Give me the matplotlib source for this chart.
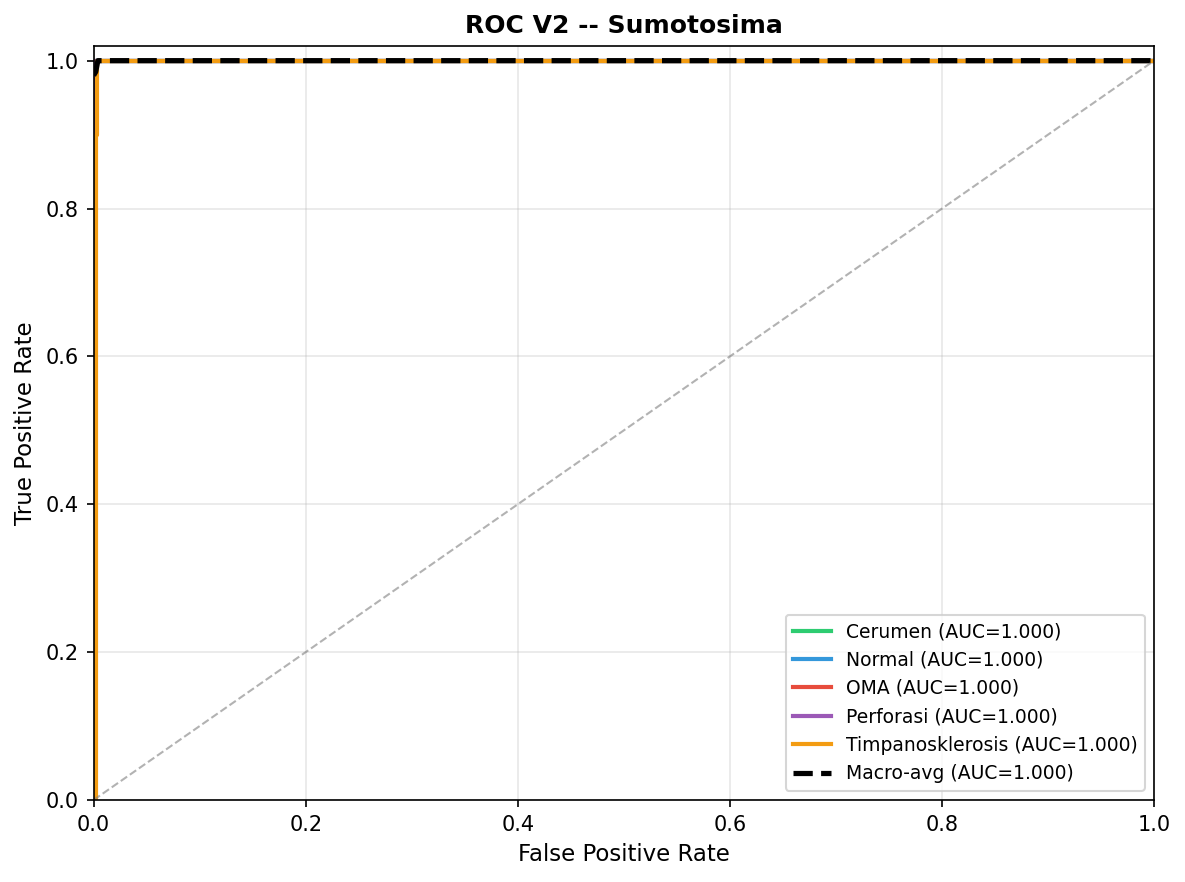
import matplotlib
matplotlib.use("Agg")
import matplotlib.pyplot as plt
import numpy as np

# --- data ---
classes = ["Cerumen", "Normal", "OMA", "Perforasi", "Timpanosklerosis"]
colors = ["#2ecc71", "#3498db", "#e74c3c", "#9b59b6", "#f39c12"]
aucs = [1.000, 1.000, 1.000, 1.000, 1.000]

# per-class ROC points (fpr, tpr)
fpr_list = [
    [0.0, 0.0, 1.0],
    [0.0, 0.0, 1.0],
    [0.0, 0.0, 1.0],
    [0.0, 0.0, 0.002, 1.0],
    [0.0, 0.002, 0.002, 0.003, 0.003, 1.0],
]
tpr_list = [
    [0.0, 1.0, 1.0],
    [0.0, 1.0, 1.0],
    [0.0, 1.0, 1.0],
    [0.0, 1.0, 1.0, 1.0],
    [0.0, 0.0, 0.9, 0.9, 1.0, 1.0],
]

macro_fpr = [0.0, 0.002, 0.004, 1.0]
macro_tpr = [0.98, 0.985, 1.0, 1.0]
macro_auc = 1.000

fig = plt.figure(figsize=(7.9, 5.88), dpi=150)
ax = fig.add_axes([0.079, 0.093, 0.895, 0.855])

for name, c, fpr, tpr, a in zip(classes, colors, fpr_list, tpr_list, aucs):
    ax.plot(fpr, tpr, color=c, lw=2, label=f"{name} (AUC={a:.3f})")

ax.plot(macro_fpr, macro_tpr, "k--", lw=2.5, label=f"Macro-avg (AUC={macro_auc:.3f})")
ax.plot([0, 1], [0, 1], color="gray", ls="--", lw=1, alpha=0.6)

ax.set_xlim(0, 1)
ax.set_ylim(0, 1.02)
ax.set_xlabel("False Positive Rate", fontsize=11)
ax.set_ylabel("True Positive Rate", fontsize=11)
ax.set_title("ROC V2 -- Sumotosima", fontsize=12, fontweight="bold")
ax.legend(loc="lower right", fontsize=9)
ax.grid(alpha=0.3)

fig.savefig("out.png", dpi=150)
